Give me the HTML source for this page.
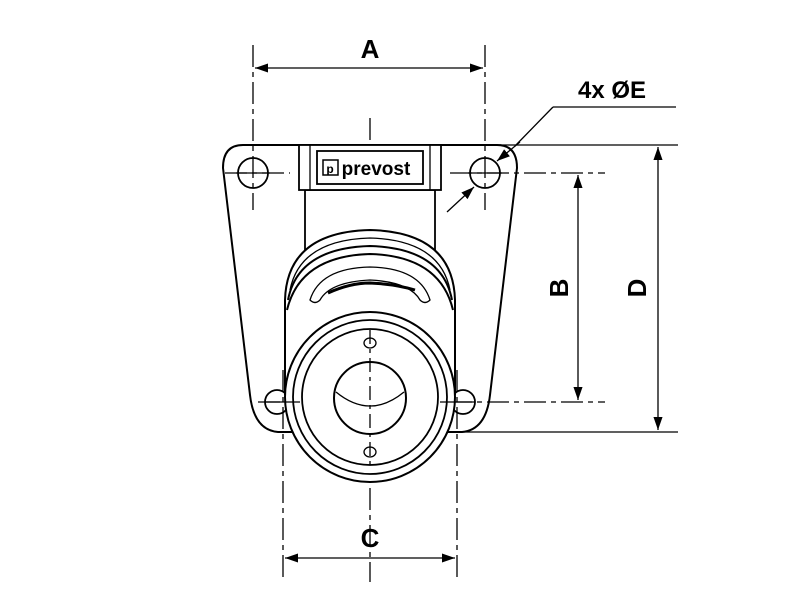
<!DOCTYPE html>
<html><head><style>body{margin:0;background:#fff}svg{display:block}</style></head><body>
<svg width="800" height="600" viewBox="0 0 800 600" xmlns="http://www.w3.org/2000/svg">
<defs>
<marker id="ar" viewBox="0 0 10 10" refX="10" refY="5" markerWidth="13" markerHeight="13" markerUnits="userSpaceOnUse" orient="auto"><path d="M0,1.5 L10,5 L0,8.5 Z" fill="#000"/></marker>
</defs>
<g fill="none" stroke="#000" stroke-width="1.3">
<g stroke-dasharray="22,5,5,5">
<line x1="370" y1="118" x2="370" y2="582"/>
<line x1="253" y1="45" x2="253" y2="210"/>
<line x1="485" y1="45" x2="485" y2="210"/>
<line x1="283" y1="370" x2="283" y2="582"/>
<line x1="457" y1="370" x2="457" y2="582"/>
<line x1="225" y1="173" x2="290" y2="173"/>
<line x1="450" y1="173" x2="605" y2="173"/>
<line x1="450" y1="402" x2="605" y2="402"/>
<line x1="258" y1="402" x2="315" y2="402"/>
</g>
<path d="M243,145 L497,145 Q517,145 517,168 L490,395 Q486,430 462,432 L278,432 Q254,430 250,395 L223,168 Q223,145 243,145 Z" stroke-width="2"/>
<circle cx="253" cy="173" r="15" stroke-width="1.8"/>
<circle cx="485" cy="173" r="15" stroke-width="1.8"/>
<circle cx="277" cy="402" r="12" stroke-width="1.8"/>
<circle cx="463" cy="402" r="12" stroke-width="1.8"/>
<rect x="305" y="190" width="130" height="70" fill="#fff" stroke-width="1.8"/>
<rect x="299" y="145" width="142" height="45" fill="#fff" stroke-width="1.8"/>
<line x1="310" y1="145" x2="310" y2="190"/><line x1="430" y1="145" x2="430" y2="190"/>
<rect x="317" y="151" width="106" height="33" stroke-width="1.8"/>
<path d="M285,395 L285,300 Q287,232 370,230 Q453,232 455,300 L455,395" fill="#fff" stroke-width="2"/>
<path d="M290,290 Q300,240 370,238 Q440,240 450,290"/>
<path d="M288,300 Q298,248 370,246 Q442,248 452,300" stroke-width="2"/>
<path d="M287,310 Q300,256 370,254 Q440,256 453,310" stroke-width="2"/>
<path d="M310,300 Q320,268 370,267 Q420,268 430,300 Q425,305 420,300 Q410,282 370,280 Q330,282 320,300 Q315,305 310,300 Z"/>
<path d="M328,293 Q350,283 370,283 Q395,284 415,290" stroke-width="3"/>
<circle cx="370" cy="397" r="85" fill="#fff" stroke-width="2"/>
<circle cx="370" cy="397" r="77" stroke-width="1.8"/>
<circle cx="370" cy="397" r="68" stroke-width="1.8"/>
<circle cx="370" cy="398" r="36" stroke-width="2"/>
<path d="M336,392 Q370,420 404,392" />
<ellipse cx="370" cy="343" rx="6" ry="5"/>
<ellipse cx="370" cy="452" rx="6" ry="5"/>
<line x1="370" y1="330" x2="370" y2="470" stroke-dasharray="14,5,4,5"/>
<line x1="265" y1="402" x2="300" y2="402"/><line x1="440" y1="402" x2="475" y2="402"/>
<line x1="236" y1="173" x2="270" y2="173"/><line x1="468" y1="173" x2="502" y2="173"/>
<line x1="370" y1="68" x2="255" y2="68" marker-end="url(#ar)"/>
<line x1="370" y1="68" x2="483" y2="68" marker-end="url(#ar)"/>
<line x1="370" y1="558" x2="285" y2="558" marker-end="url(#ar)"/>
<line x1="370" y1="558" x2="455" y2="558" marker-end="url(#ar)"/>
<line x1="578" y1="288" x2="578" y2="175" marker-end="url(#ar)"/>
<line x1="578" y1="288" x2="578" y2="400" marker-end="url(#ar)"/>
<line x1="658" y1="288" x2="658" y2="147" marker-end="url(#ar)"/>
<line x1="658" y1="288" x2="658" y2="430" marker-end="url(#ar)"/>
<line x1="500" y1="145" x2="678" y2="145"/>
<line x1="462" y1="432" x2="678" y2="432"/>
<line x1="515" y1="146" x2="553" y2="107"/><line x1="553" y1="107" x2="676" y2="107"/>
<line x1="447" y1="212" x2="474" y2="187" marker-end="url(#ar)"/>
<line x1="520" y1="142" x2="497" y2="161" marker-end="url(#ar)"/>
</g>
<g font-family="Liberation Sans, sans-serif" font-weight="bold" fill="#000">
<text x="370" y="58" font-size="26" text-anchor="middle">A</text>
<text x="370" y="547" font-size="26" text-anchor="middle">C</text>
<text x="612" y="98" font-size="24" text-anchor="middle">4x ØE</text>
<text transform="translate(568,288) rotate(-90)" font-size="26" text-anchor="middle">B</text>
<text transform="translate(646,288) rotate(-90)" font-size="26" text-anchor="middle">D</text>
<text x="376" y="175" font-size="19" text-anchor="middle">prevost</text>
<rect x="323" y="160" width="15" height="15" fill="none" stroke="#000" stroke-width="1.5"/>
<text x="330" y="173" font-size="12" text-anchor="middle">p</text>
</g>
</svg>
</body></html>
